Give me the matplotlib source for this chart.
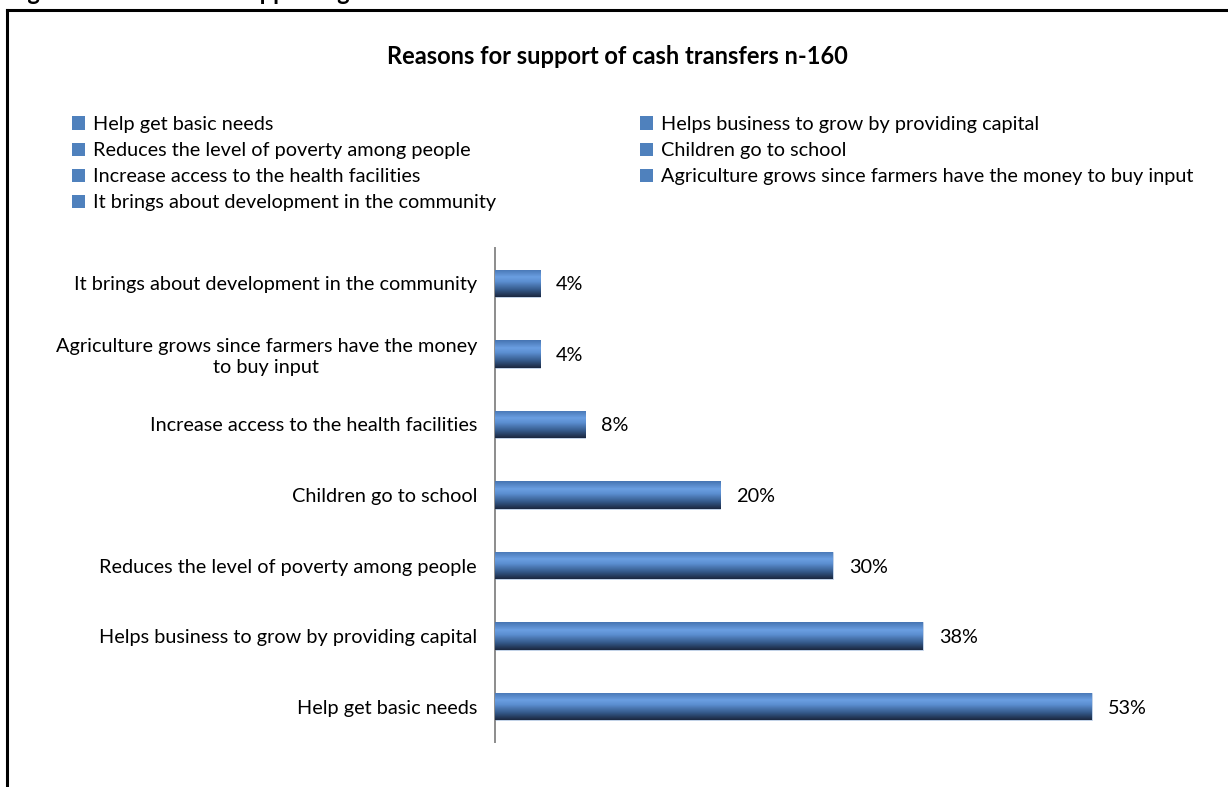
import numpy as np
import matplotlib.pyplot as plt
from matplotlib.colors import LinearSegmentedColormap
from matplotlib.patches import Patch
from matplotlib.lines import Line2D

plt.rcParams['font.family'] = ['Lato', 'DejaVu Sans']

# reasons, bottom bar first
reasons = [
    'Help get basic needs',
    'Helps business to grow by providing capital',
    'Reduces the level of poverty among people',
    'Children go to school',
    'Increase access to the health facilities',
    'Agriculture grows since farmers have the money to buy input',
    'It brings about development in the community',
]
tick_labels = [
    'Help get basic needs',
    'Helps business to grow by providing capital',
    'Reduces the level of poverty among people',
    'Children go to school',
    'Increase access to the health facilities',
    'Agriculture grows since farmers have the money\nto buy input',
    'It brings about development in the community',
]
percent = [53, 38, 30, 20, 8, 4, 4]

W, H = 1228, 787
fig = plt.figure(figsize=(W / 100, H / 100), dpi=100)
fs = 14.3

# axes placed in pixel terms: y spine from 248 to 742, 11.26 px per percent
ax_left, ax_right = 495, 1200
ax_top, ax_bottom = 248, 742
ax = fig.add_axes([ax_left / W, 1 - ax_bottom / H,
                   (ax_right - ax_left) / W, (ax_bottom - ax_top) / H])

y = np.arange(len(percent))
bar_h = 0.39
bars = ax.barh(y, percent, height=bar_h, color='#4a7ebb',
               edgecolor='#c9d6ea', linewidth=0.6, zorder=2)

# vertical shading inside each bar
shade = LinearSegmentedColormap.from_list('shade', [
    (0.0, '#4675b3'), (0.28, '#6b9fe2'), (0.45, '#5b8ed0'),
    (0.75, '#345888'), (1.0, '#1b2840')])
grad = shade(np.linspace(0, 1, 64))[:, :3].reshape(64, 1, 3)
for rect, v, yc in zip(bars, percent, y):
    im = ax.imshow(grad, extent=(0, v, yc - bar_h / 2, yc + bar_h / 2),
                   origin='upper', aspect='auto', zorder=3, interpolation='bilinear')
    im.set_clip_path(rect)

for v, yc in zip(percent, y):
    ax.annotate(f'{v}%', xy=(v, yc), xytext=(11.5, 0), textcoords='offset points',
                ha='left', va='center_baseline', fontsize=fs, color='black')

ax.set_xlim(0, (ax_right - ax_left) / 11.26)
ax.set_ylim(-0.5, len(percent) - 0.5)
ax.set_yticks(y)
ax.set_yticklabels(tick_labels, fontsize=fs, multialignment='center', linespacing=1.25)
ax.tick_params(axis='y', length=0, pad=13)
ax.set_xticks([])
for side in ['top', 'right', 'bottom']:
    ax.spines[side].set_visible(False)
ax.spines['left'].set_color('#8c8c8c')
ax.spines['left'].set_linewidth(1.4)

fig.text(617 / W, 1 - 57 / H, 'Reasons for support of cash transfers n-160',
         ha='center', va='center', fontsize=17, fontweight='bold')

# legend, filled row by row like the source spreadsheet
handles = [Patch(facecolor='#4f81bd', edgecolor='none', label=r) for r in reasons]
order = [0, 2, 4, 6, 1, 3, 5]
fig.legend([handles[i] for i in order], [reasons[i] for i in order],
           loc='upper left', bbox_to_anchor=(72 / W, 1 - 116 / H), ncol=2,
           frameon=False, fontsize=fs, handlelength=0.65, handleheight=0.65,
           handletextpad=0.4, labelspacing=0.46, columnspacing=7.25,
           borderaxespad=0, borderpad=0)

# page frame and the caption line cut off above it
fig.add_artist(Line2D([7 / W, 7 / W], [0, 1 - 10 / H], color='black', lw=2.2,
                      transform=fig.transFigure))
fig.add_artist(Line2D([7 / W, 1], [1 - 10 / H, 1 - 10 / H], color='black', lw=2.2,
                      transform=fig.transFigure))
fig.text(8 / W, 1 + 0.5 / H, 'Figure 9: Reasons for supporting cash transfers',
         ha='left', va='baseline', fontsize=17, fontweight='bold')

fig.savefig('out.png', dpi=100, facecolor='white')
